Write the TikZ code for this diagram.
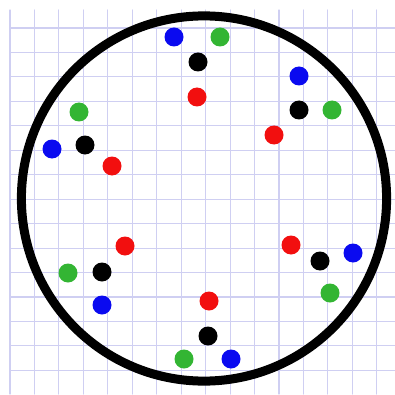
\documentclass[tikz,border=0pt]{standalone}
\usetikzlibrary{calc}
\definecolor{gpGrid}{HTML}{CFCFF2}
\definecolor{gpRed}{HTML}{F20F0F}
\definecolor{gpGreen}{HTML}{33B533}
\definecolor{gpBlue}{HTML}{0A0AF0}
\definecolor{gpInk}{HTML}{000000}
\tikzset{
 sheet/.style={line cap=round,line join=round},
 gridline/.style={draw=gpGrid,line width=1.1pt},
 rim/.style={draw=gpInk,line width=9pt},
 dot/.style={circle,inner sep=0pt,minimum size=19pt,draw=none},
 dotK/.style={dot,fill=gpInk},
 dotR/.style={dot,fill=gpRed},
 dotG/.style={dot,fill=gpGreen},
 dotB/.style={dot,fill=gpBlue}
}
\begin{document}
\begin{tikzpicture}[sheet,x=1pt,y=1pt]
 \useasboundingbox (0,0) rectangle (395,394);
 % squared paper
 \foreach \k in {0,...,15}{
  \draw[gridline] (10+24.45*\k,0)--(10+24.45*\k,384);
 }
 \foreach \k in {0,...,14}{
  \draw[gridline] (10,366-24.45*\k)--(395,366-24.45*\k);
 }
 \draw[rim] (204,195.5) circle (182.6);
 % six groups of four dots, black one in the middle
 \foreach \n/\s/\x/\y in {
   topB/dotB/174/357, topG/dotG/220/357, topK/dotK/198/332, topR/dotR/197/297,
   neB/dotB/299/318, neK/dotK/299/284, neG/dotG/332/284, neR/dotR/274/259,
   nwG/dotG/79/282, nwB/dotB/52/245, nwK/dotK/85/249, nwR/dotR/112/228,
   swR/dotR/125/148, swG/dotG/68/121, swK/dotK/102/122, swB/dotB/102/89,
   seR/dotR/291/149, seK/dotK/320/133, seB/dotB/353/141, seG/dotG/330/101,
   botR/dotR/209/93, botK/dotK/208/58, botG/dotG/184/35, botB/dotB/231/35}{
  \node[\s] (\n) at (\x,\y) {};
 }
\end{tikzpicture}
\end{document}
